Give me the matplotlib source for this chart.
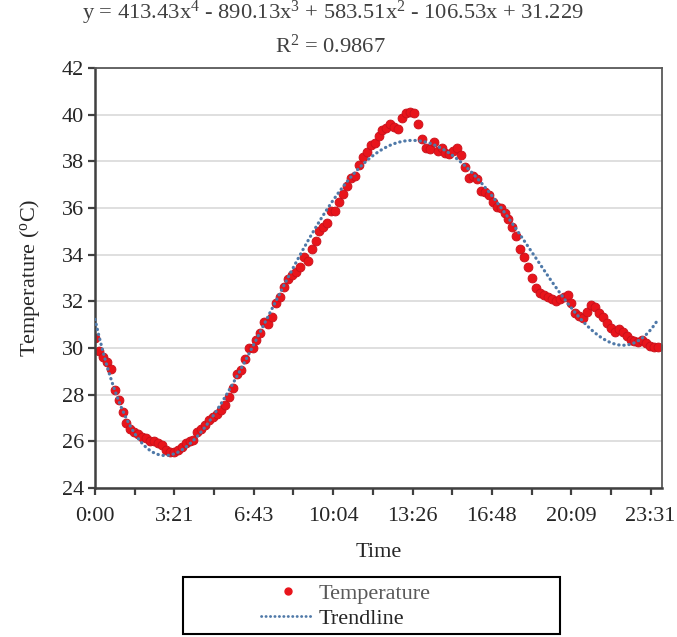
import numpy as np
import matplotlib
matplotlib.use("Agg")
import matplotlib.pyplot as plt
from matplotlib.patches import Rectangle
from matplotlib.lines import Line2D

plt.rcParams['font.family'] = ['Liberation Serif', 'DejaVu Serif']
plt.rcParams['mathtext.fontset'] = 'custom'
plt.rcParams['mathtext.rm'] = 'Liberation Serif'
plt.rcParams['mathtext.it'] = 'Liberation Serif:italic'

# ---- data ----
sample_step_min = 10  # readings every 10 minutes
temperature = [
    30.42, 29.88, 29.63, 29.39, 29.11, 28.20, 27.77, 27.24, 26.80, 26.52,
    26.39, 26.30, 26.20, 26.13, 26.03, 26.00, 25.92, 25.84, 25.63, 25.54,
    25.56, 25.63, 25.77, 25.92, 26.00, 26.06, 26.41, 26.55, 26.72, 26.90,
    27.05, 27.18, 27.35, 27.55, 27.90, 28.28, 28.90, 29.05, 29.55, 29.99,
    30.00, 30.35, 30.65, 31.13, 31.03, 31.32, 31.92, 32.17, 32.60, 32.95,
    33.12, 33.27, 33.49, 33.89, 33.73, 34.26, 34.60, 35.03, 35.20, 35.35,
    35.87, 35.87, 36.27, 36.60, 36.94, 37.27, 37.39, 37.84, 38.20, 38.42,
    38.70, 38.77, 39.09, 39.34, 39.42, 39.60, 39.49, 39.37, 39.85, 40.06,
    40.10, 40.09, 39.60, 38.94, 38.56, 38.52, 38.82, 38.46, 38.56, 38.37,
    38.32, 38.44, 38.56, 38.27, 37.75, 37.30, 37.37, 37.23, 36.74, 36.67,
    36.56, 36.27, 36.06, 35.99, 35.77, 35.52, 35.17, 34.81, 34.26, 33.91,
    33.49, 32.99, 32.56, 32.35, 32.27, 32.17, 32.09, 32.02, 32.09, 32.20,
    32.27, 31.92, 31.51, 31.37, 31.27, 31.56, 31.84, 31.77, 31.51, 31.34,
    31.06, 30.84, 30.70, 30.80, 30.70, 30.52, 30.34, 30.30, 30.27, 30.34,
    30.20, 30.09, 30.03, 30.03,
]
minutes = np.arange(len(temperature)) * sample_step_min
time_days = minutes / 1440.0

trend_coeffs = [413.43, -890.13, 583.51, -106.53, 31.229]  # x^4 .. x^0

xtick_labels = ['0:00', '3:21', '6:43', '10:04', '13:26', '16:48', '20:09', '23:31']
yticks = [24, 26, 28, 30, 32, 34, 36, 38, 40, 42]

FS = 16
TREND_C = '#4f79a8'
DOT_C = '#e8141b'

# ---- figure ----
fig = plt.figure(figsize=(6.77, 6.37), dpi=100)
ax = fig.add_axes([95/677, 1-488/637, (662-95)/677, (488-68)/637])

xfit = np.linspace(0, time_days.max(), 300)
ax.plot(xfit, np.polyval(trend_coeffs, xfit), linestyle=(0, (0.1, 1.5)), color=TREND_C,
        linewidth=2.3, dash_capstyle='round', zorder=3)
ax.plot(time_days, temperature, 'o', color=DOT_C, markersize=6.4,
        markeredgecolor='#c8101a', markeredgewidth=0.6, zorder=2)

ax.set_xlim(0, 1.0)
ax.set_ylim(24, 42)
ax.set_yticks(yticks)
xt = np.arange(len(xtick_labels)) * 0.14
ax.set_xticks(xt)
ax.set_xticklabels(xtick_labels)
ax.set_xticks(xt[:-1] + 0.07, minor=True)

ax.grid(axis='y', color='#d9d9d9', linewidth=1.2)
ax.set_axisbelow(True)

for side in ['left', 'bottom']:
    ax.spines[side].set_color('#404040')
    ax.spines[side].set_linewidth(1.8)
for side in ['top', 'right']:
    ax.spines[side].set_color('#595959')
    ax.spines[side].set_linewidth(1.3)

ax.tick_params(axis='both', which='major', direction='out', length=5, width=1.6,
               color='#404040', labelsize=FS, labelcolor='#262626')
ax.tick_params(axis='x', which='minor', direction='out', length=5, width=1.6, color='#404040')
ax.tick_params(axis='x', pad=9)
ax.tick_params(axis='y', pad=3)

ax.set_xlabel('Time', fontsize=FS, color='#262626', labelpad=12)
ax.set_ylabel(r'Temperature ($^{\mathrm{o}}$C)', fontsize=FS, color='#262626', labelpad=14)

fig.text(333/677, 1-13/637, r'y = 413.43x$^{4}$ - 890.13x$^{3}$ + 583.51x$^{2}$ - 106.53x + 31.229',
         ha='center', va='center', fontsize=16.2, color='#404040')
fig.text(330/677, 1-46/637, r'R$^{2}$ = 0.9867', ha='center', va='center',
         fontsize=16.2, color='#404040')

# legend
handles = [
    Line2D([], [], marker='o', linestyle='none', color=DOT_C, markersize=5),
    Line2D([], [], linestyle=(0, (0.1, 1.5)), color=TREND_C, linewidth=2.0,
           dash_capstyle='round'),
]
leg = fig.legend(handles, ['Temperature', 'Trendline'], loc='upper left',
                 bbox_to_anchor=(261/677, 1-583/637), frameon=False,
                 fontsize=FS, handlelength=2.4, handletextpad=0.2,
                 labelspacing=0.22, borderaxespad=0, borderpad=0)
leg.get_texts()[0].set_color('#595959')
leg.get_texts()[1].set_color('#262626')
fig.patches.append(Rectangle((183/677, 3/637), (560-183)/677, (634-577)/637, fill=False,
                             edgecolor='black', linewidth=1.5, transform=fig.transFigure))

fig.savefig('out.png', dpi=100)
